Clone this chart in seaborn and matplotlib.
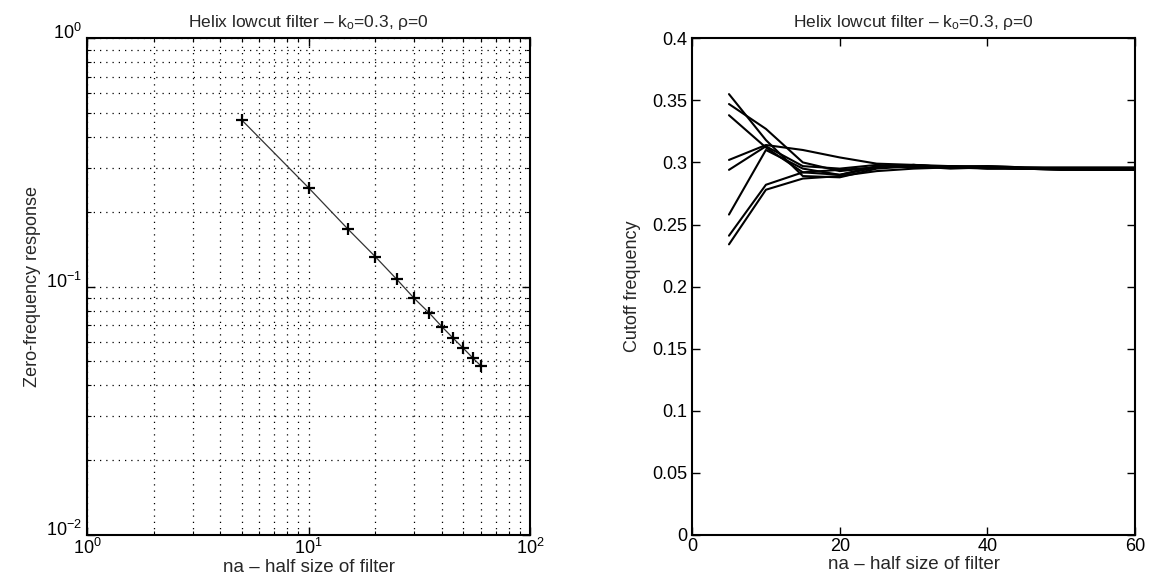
import numpy as np
import pandas as pd
import matplotlib
matplotlib.use("Agg")
import matplotlib.pyplot as plt
import matplotlib.transforms as mtransforms
import seaborn as sns
from matplotlib.ticker import LogLocator, MultipleLocator

# filter half sizes
na = [5, 10, 15, 20, 25, 30, 35, 40, 45, 50, 55, 60]

# zero-frequency response (left panel)
zero_resp = [0.468, 0.250, 0.171, 0.132, 0.107, 0.0896, 0.0784,
             0.0689, 0.0619, 0.0564, 0.0517, 0.0479]

# cutoff frequency curves (right panel)
cut1 = [0.355, 0.318, 0.289, 0.288, 0.295, 0.297, 0.295, 0.296, 0.295, 0.295, 0.295, 0.295]
cut2 = [0.347, 0.327, 0.300, 0.293, 0.296, 0.298, 0.296, 0.296, 0.295, 0.295, 0.295, 0.295]
cut3 = [0.338, 0.312, 0.292, 0.290, 0.297, 0.296, 0.297, 0.296, 0.295, 0.295, 0.295, 0.295]
cut4 = [0.302, 0.314, 0.310, 0.304, 0.299, 0.298, 0.297, 0.297, 0.296, 0.296, 0.296, 0.296]
cut5 = [0.294, 0.313, 0.297, 0.295, 0.298, 0.296, 0.297, 0.295, 0.295, 0.294, 0.294, 0.294]
cut6 = [0.258, 0.310, 0.295, 0.290, 0.296, 0.298, 0.296, 0.296, 0.295, 0.295, 0.294, 0.294]
cut7 = [0.241, 0.282, 0.292, 0.294, 0.296, 0.297, 0.296, 0.297, 0.296, 0.295, 0.295, 0.295]
cut8 = [0.234, 0.278, 0.287, 0.289, 0.293, 0.295, 0.296, 0.295, 0.295, 0.294, 0.294, 0.294]
cut_curves = [cut1, cut2, cut3, cut4, cut5, cut6, cut7, cut8]

title = r"Helix lowcut filter – k$_{\rm o}$=0.3, ρ=0"

sns.set_style("ticks")
plt.rcParams["font.family"] = ["Liberation Sans", "DejaVu Sans"]
plt.rcParams["mathtext.fontset"] = "custom"
plt.rcParams["mathtext.rm"] = "Liberation Sans"
plt.rcParams["mathtext.it"] = "Liberation Sans"
plt.rcParams["font.size"] = 11

fig = plt.figure(figsize=(11.54, 5.79), dpi=100)
ax1 = fig.add_axes([0.0754, 0.076, 0.384, 0.858])
ax2 = fig.add_axes([0.5997, 0.076, 0.384, 0.858])

# left panel
df1 = pd.DataFrame({"na": na, "resp": zero_resp})
sns.lineplot(data=df1, x="na", y="resp", ax=ax1, color="#333333", lw=0.9,
             marker="+", markersize=9, markeredgewidth=1.6, markeredgecolor="black")
ax1.set_xscale("log")
ax1.set_yscale("log")
ax1.set_xlim(1, 100)
ax1.set_ylim(0.01, 1)
ax1.xaxis.set_major_locator(LogLocator(base=10))
ax1.yaxis.set_major_locator(LogLocator(base=10))
ax1.xaxis.set_minor_locator(LogLocator(base=10, subs=np.arange(2, 10)))
ax1.yaxis.set_minor_locator(LogLocator(base=10, subs=np.arange(2, 10)))
ax1.grid(True, which="both", color="black", linestyle=(0, (1, 4)), linewidth=0.9)
ax1.set_xlabel("na – half size of filter", fontsize=13.5, labelpad=1)
ax1.set_ylabel("Zero-frequency response", fontsize=13, labelpad=4)
ax1.set_title(title, fontsize=12.5, pad=8)

# right panel
df2 = pd.DataFrame({
    "na": np.tile(na, len(cut_curves)),
    "freq": np.concatenate(cut_curves),
    "curve": np.repeat(np.arange(len(cut_curves)), len(na)),
})
sns.lineplot(data=df2, x="na", y="freq", units="curve", estimator=None,
             ax=ax2, color="black", lw=1.5)
ax2.set_xlim(0, 60)
ax2.set_ylim(0, 0.4)
ax2.xaxis.set_major_locator(MultipleLocator(20))
ax2.yaxis.set_major_locator(MultipleLocator(0.05))
ax2.yaxis.set_major_formatter(plt.FuncFormatter(lambda v, p: "0" if abs(v) < 1e-9 else ("%.2f" % v).rstrip("0")))
ax2.set_xlabel("na – half size of filter", fontsize=13.5, labelpad=1)
ax2.set_ylabel("Cutoff frequency", fontsize=13, labelpad=8)
ax2.set_title(title, fontsize=12.5, pad=8)

for ax in (ax1, ax2):
    for s in ax.spines.values():
        s.set_visible(True)
        s.set_linewidth(1.5)
        s.set_color("black")
    ax.tick_params(which="both", direction="in", top=True, right=True,
                   labelsize=13, colors="black")
    ax.tick_params(axis="x", which="major", pad=2)
    ax.tick_params(which="major", length=6, width=1)
    ax.tick_params(which="minor", length=3, width=0.8)
    ax.set_facecolor("white")

# the log-axis exponent labels sit a little above their ticks
shift = mtransforms.ScaledTranslation(0, 5 / 72, fig.dpi_scale_trans)
for lab in ax1.get_yticklabels():
    lab.set_transform(lab.get_transform() + shift)

fig.savefig("out.png", dpi=100, facecolor="white")
